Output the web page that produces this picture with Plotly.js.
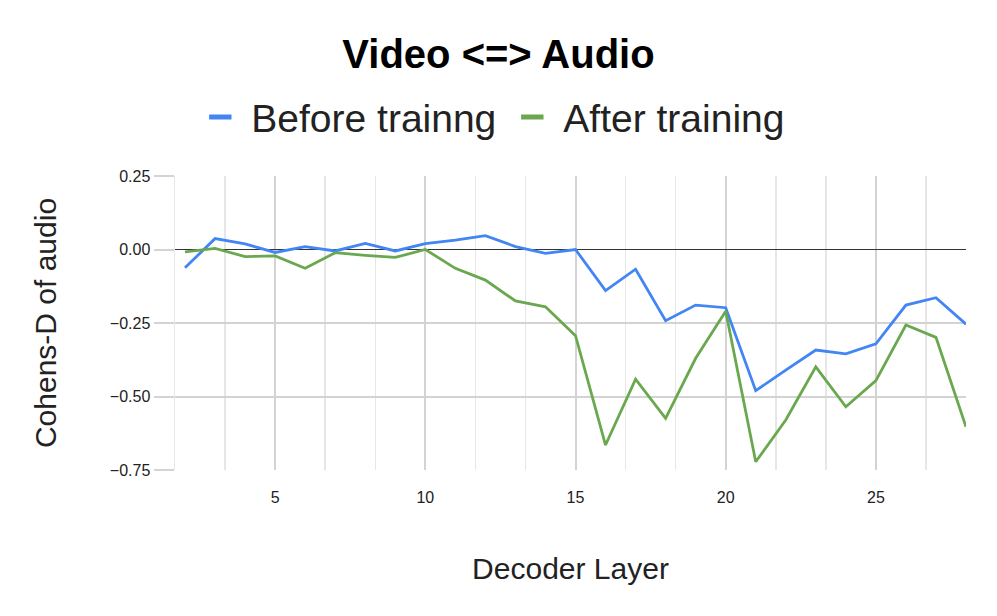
<!DOCTYPE html>
<html>
<head>
<meta charset="utf-8">
<script src="https://cdn.plot.ly/plotly-3.0.1.min.js"></script>
<style>
  html, body { margin: 0; padding: 0; background: #fff; }
  #chart { width: 997px; height: 616px; }
</style>
</head>
<body>
<div id="chart"></div>
<script>
/* Cohens-D per decoder layer, video <=> audio */
var layers = [2, 3, 4, 5, 6, 7, 8, 9, 10, 11, 12, 13, 14, 15, 16, 17, 18, 19, 20, 21, 22, 23, 24, 25, 26, 27, 28];
var beforeTraining = [-0.062, 0.037, 0.019, -0.01, 0.01, -0.005, 0.021, -0.005, 0.02, 0.032, 0.047, 0.01, -0.013, 0.0,
  -0.14, -0.067, -0.242, -0.189, -0.198, -0.48, -0.41, -0.342, -0.355, -0.321, -0.189, -0.164, -0.254];
var afterTraining = [-0.008, 0.004, -0.024, -0.022, -0.064, -0.011, -0.02, -0.027, 0.0, -0.064, -0.104, -0.175, -0.195, -0.293,
  -0.665, -0.441, -0.574, -0.37, -0.21, -0.722, -0.58, -0.399, -0.535, -0.446, -0.257, -0.299, -0.603];
var seriesNames = ['Before trainng', 'After training'];
var seriesColors = ['#4285f4', '#6aa84f'];

var FONT = 'Liberation Sans, Arial, sans-serif';

var traces = [];
/* the lines themselves, legend kept off so the legend can show a short dash like Sheets does */
[beforeTraining, afterTraining].forEach(function (ys, i) {
  traces.push({ x: layers, y: ys, name: seriesNames[i], mode: 'lines', showlegend: false,
    legendgroup: 'g' + i, line: { color: seriesColors[i], width: 2.8 }, hoverinfo: 'skip' });
});
seriesNames.forEach(function (nm, i) {
  traces.push({ x: [null], y: [null], name: nm, mode: 'markers', legendgroup: 'g' + i,
    marker: { symbol: 'line-ew', size: 16, color: seriesColors[i], line: { color: seriesColors[i], width: 5 } },
    hoverinfo: 'skip' });
});

var layout = {
  width: 997, height: 616,
  margin: { l: 175, r: 31, t: 176, b: 146 },
  paper_bgcolor: '#fff', plot_bgcolor: '#fff',
  font: { family: FONT, color: '#222' },
  title: { text: '<b>Video <=> Audio</b>', x: 0.5, xanchor: 'center', y: 0.913, yanchor: 'middle',
    font: { family: FONT, size: 40, color: '#000' } },
  showlegend: true,
  legend: { orientation: 'h', x: 0.398, xanchor: 'center', y: 1.2, yanchor: 'middle',
    font: { family: FONT, size: 39, color: '#222' }, itemwidth: 52 },
  xaxis: {
    range: [5 / 3, 28], tick0: 0, dtick: 5, showline: false, zeroline: false,
    showgrid: true, gridcolor: '#d3d3d3', gridwidth: 2,
    minor: { tick0: 0, dtick: 5 / 3, showgrid: true, gridcolor: '#e6e6e6', gridwidth: 1.5 },
    ticks: 'outside', ticklen: 13, tickcolor: 'rgba(0,0,0,0)',
    tickfont: { family: FONT, size: 16, color: '#222' },
    title: { text: 'Decoder Layer', standoff: 52, font: { family: FONT, size: 30, color: '#222' } },
    fixedrange: true
  },
  yaxis: {
    range: [-0.75, 0.25], dtick: 0.25, tickformat: '.2f',
    showline: true, linecolor: '#e6e6e6', linewidth: 1.5, mirror: false,
    showgrid: true, gridcolor: '#d3d3d3', gridwidth: 2,
    zeroline: true, zerolinecolor: '#333333', zerolinewidth: 1.3,
    ticks: 'outside', ticklen: 20, tickcolor: '#d3d3d3', tickwidth: 2,
    tickfont: { family: FONT, size: 16, color: '#222' },
    title: { text: 'Cohens-D of audio', standoff: 44, font: { family: FONT, size: 30, color: '#222' } },
    fixedrange: true
  }
};

Plotly.newPlot('chart', traces, layout, { displayModeBar: false, staticPlot: true });
</script>
</body>
</html>
